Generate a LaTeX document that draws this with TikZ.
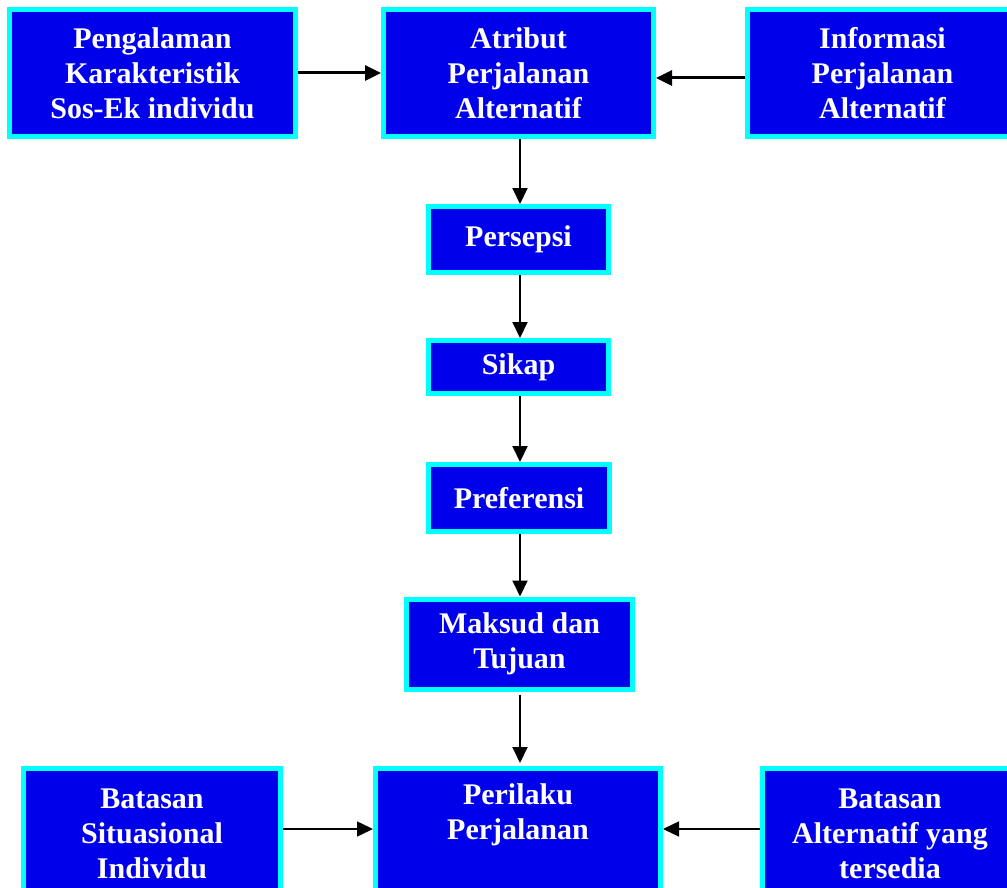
\documentclass[tikz,border=0pt]{standalone}
\usepackage{fontspec}
\setmainfont{Liberation Serif}
\usetikzlibrary{arrows.meta}
\definecolor{boxblue}{RGB}{0,0,235}
\definecolor{boxcyan}{RGB}{0,255,255}

\tikzset{
  kotak/.style={draw=boxcyan, line width=5pt, fill=boxblue, text=white,
    font=\fontsize{30}{35}\selectfont\bfseries, align=center, inner sep=0pt},
  panah/.style={-{Triangle[length=16pt,width=15pt]}, line width=2pt},
}

\begin{document}
\begin{tikzpicture}[x=1pt,y=-1pt]

\useasboundingbox (0,0) rectangle (1007,888);
\clip (0,0) rectangle (1007,888);

% top row
\node[kotak, minimum width=286pt, minimum height=127pt] (peng) at (152.5,73) {Pengalaman\\Karakteristik\\Sos-Ek individu};
\node[kotak, minimum width=270pt, minimum height=127pt] (atribut) at (518.5,73) {Atribut\\Perjalanan\\Alternatif};
\node[kotak, minimum width=270pt, minimum height=127pt] (info) at (882.5,73) {Informasi\\Perjalanan\\Alternatif};

% middle column
\node[kotak, minimum width=180pt, minimum height=66pt] (persepsi) at (518.5,239.5) {Persepsi};
\node[kotak, minimum width=180pt, minimum height=53pt] (sikap) at (518.5,367) {Sikap};
\node[kotak, minimum width=181pt, minimum height=67pt] (pref) at (519,498) {Preferensi};
\node[kotak, minimum width=226pt, minimum height=90pt] (maksud) at (519.5,644) {Maksud dan\\Tujuan};

% bottom row
\node[kotak, minimum width=257pt, minimum height=131pt] (situasi) at (152,834) {Batasan\\Situasional\\Individu};
\node[kotak, minimum width=285pt, minimum height=131pt] (perilaku) at (518,834) {Perilaku\\Perjalanan\\\strut};
\node[kotak, minimum width=255pt, minimum height=131pt] (tersedia) at (890,834) {Batasan\\Alternatif yang\\tersedia};

% arrows
\draw[panah, line width=3pt] (peng.east) -- (atribut.west);
\draw[panah, line width=3pt] ([yshift=-5pt]info.west) -- ([yshift=-5pt]atribut.east);
\draw[panah] ([xshift=1.5pt]atribut.south) -- ([xshift=1.5pt]atribut.south |- persepsi.north);
\draw[panah] ([xshift=1.5pt]atribut.south |- persepsi.south) -- ([xshift=1.5pt]atribut.south |- sikap.north);
\draw[panah] ([xshift=1.5pt]atribut.south |- sikap.south) -- ([xshift=1.5pt]atribut.south |- pref.north);
\draw[panah] ([xshift=1.5pt]atribut.south |- pref.south) -- ([xshift=1.5pt]atribut.south |- maksud.north);
\draw[panah] ([xshift=1.5pt,yshift=-3pt]atribut.south |- maksud.south) -- ([xshift=1.5pt,yshift=3pt]atribut.south |- perilaku.north);
\draw[panah, line width=1.5pt] ([yshift=5pt]situasi.east) -- ([yshift=5pt]perilaku.west);
\draw[panah, line width=1.5pt] ([yshift=5pt]tersedia.west) -- ([yshift=5pt]perilaku.east);

\end{tikzpicture}
\end{document}
